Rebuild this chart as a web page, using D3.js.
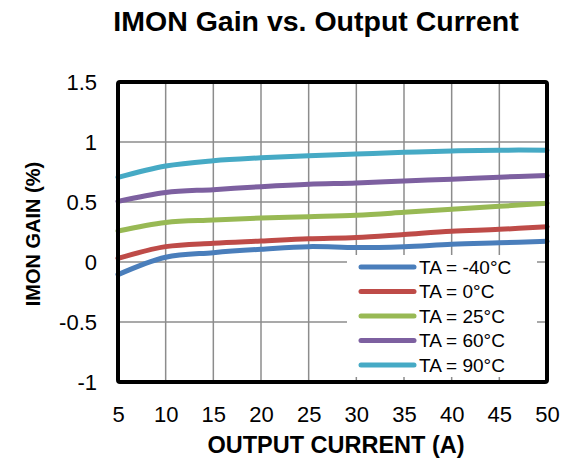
<!DOCTYPE html>
<html>
<head>
<meta charset="utf-8">
<script src="https://cdn.jsdelivr.net/npm/d3@7"></script>
<style>
  body { margin: 0; background: #fff; }
  text { font-family: "Liberation Sans", Arial, sans-serif; }
</style>
</head>
<body>
<svg id="chart" width="568" height="460"></svg>
<script>
// output current (A)
let current = [5, 10, 15, 20, 25, 30, 35, 40, 45, 50];
// IMON gain (%) per ambient temperature
let gainM40 = [-0.105, 0.04, 0.078, 0.106, 0.128, 0.12, 0.128, 0.148, 0.16, 0.172];
let gain0 = [0.03, 0.128, 0.156, 0.175, 0.194, 0.205, 0.23, 0.256, 0.272, 0.294];
let gain25 = [0.258, 0.33, 0.35, 0.367, 0.378, 0.39, 0.414, 0.44, 0.464, 0.49];
let gain60 = [0.505, 0.58, 0.603, 0.628, 0.648, 0.658, 0.675, 0.69, 0.707, 0.72];
let gain90 = [0.705, 0.8, 0.844, 0.868, 0.886, 0.9, 0.914, 0.926, 0.932, 0.932];
let seriesNames = ["TA = -40°C", "TA = 0°C", "TA = 25°C", "TA = 60°C", "TA = 90°C"];
let seriesColors = ["#4a7ebb", "#be4b48", "#98b954", "#7d60a0", "#46aac5"];
let xTicks = [5, 10, 15, 20, 25, 30, 35, 40, 45, 50];
let yTicks = [-1, -0.5, 0, 0.5, 1, 1.5];

let allSeries = [gainM40, gain0, gain25, gain60, gain90];

let svg = d3.select("#chart");
let plotL = 118, plotR = 547, plotT = 82, plotB = 382;

let xScale = d3.scaleLinear().domain([5, 50]).range([plotL, plotR]);
let yScale = d3.scaleLinear().domain([-1, 1.5]).range([plotB, plotT]);

// title
svg.append("text")
    .attr("x", 316).attr("y", 31)
    .attr("text-anchor", "middle")
    .style("font-size", "28.5px").style("font-weight", "bold")
    .text("IMON Gain vs. Output Current");

// grid
let grid = svg.append("g");
grid.selectAll(".vgrid")
    .data(xTicks.slice(1, -1))
    .enter().append("line")
    .attr("x1", d => xScale(d)).attr("x2", d => xScale(d))
    .attr("y1", plotT).attr("y2", plotB)
    .attr("stroke", "#8c8c8c").attr("stroke-width", 1.5);
grid.selectAll(".hgrid")
    .data(yTicks.slice(1, -1))
    .enter().append("line")
    .attr("x1", plotL).attr("x2", plotR)
    .attr("y1", d => yScale(d)).attr("y2", d => yScale(d))
    .attr("stroke", "#8c8c8c").attr("stroke-width", 1.5);

// axes labels via d3 axes, no domain/ticks drawn
let xAxis = d3.axisBottom(xScale).tickValues(xTicks).tickSize(0).tickPadding(24);
let yAxis = d3.axisLeft(yScale).tickValues(yTicks).tickSize(0).tickPadding(21)
    .tickFormat(d => String(d));

let gx = svg.append("g").attr("transform", "translate(0," + plotB + ")").call(xAxis);
let gy = svg.append("g").attr("transform", "translate(" + plotL + ",0)").call(yAxis);
[gx, gy].forEach(g => {
    g.select(".domain").remove();
    g.selectAll("text")
        .style("font-family", "'Liberation Sans', Arial, sans-serif")
        .style("font-size", "22px").attr("fill", "#000");
});

// lines
let line = d3.line()
    .x((d, i) => xScale(current[i]))
    .y(d => yScale(d))
    .curve(d3.curveCatmullRom.alpha(0.5));

svg.selectAll(".series")
    .data(allSeries)
    .enter().append("path")
    .attr("class", "series")
    .attr("d", d => line(d))
    .attr("fill", "none")
    .attr("stroke", (d, i) => seriesColors[i])
    .attr("stroke-width", 5)
    .attr("stroke-linecap", "round");

// legend
let lg = svg.append("g");
lg.append("rect")
    .attr("x", 347).attr("y", 255).attr("width", 190).attr("height", 122)
    .attr("fill", "#fff");
let items = lg.selectAll(".item")
    .data(seriesNames)
    .enter().append("g")
    .attr("transform", (d, i) => "translate(0," + (267 + i * 24.5) + ")");
items.append("line")
    .attr("x1", 361).attr("x2", 414)
    .attr("stroke", (d, i) => seriesColors[i])
    .attr("stroke-width", 5).attr("stroke-linecap", "round");
items.append("text")
    .attr("x", 419).attr("y", 6.8)
    .style("font-size", "19px")
    .text(d => d);

// frame
svg.append("rect")
    .attr("x", plotL).attr("y", plotT)
    .attr("width", plotR - plotL).attr("height", plotB - plotT)
    .attr("rx", 2)
    .attr("fill", "none").attr("stroke", "#000").attr("stroke-width", 4);

// axis titles
svg.append("text")
    .attr("x", 336).attr("y", 453)
    .attr("text-anchor", "middle")
    .style("font-size", "23.5px").style("font-weight", "bold")
    .text("OUTPUT CURRENT (A)");
svg.append("text")
    .attr("transform", "translate(40,234) rotate(-90)")
    .attr("text-anchor", "middle")
    .style("font-size", "20px").style("font-weight", "bold")
    .text("IMON GAIN (%)");
</script>
</body>
</html>
